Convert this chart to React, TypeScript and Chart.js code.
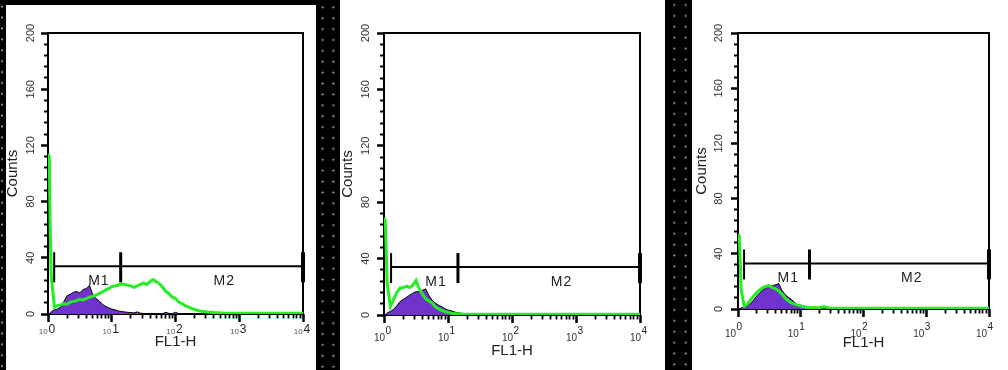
import React, { useEffect, useRef } from 'react';
import { Chart, registerables } from 'chart.js';

Chart.register(...registerables);

// FL1-H channel positions, in decades above 10^0
const LOG_X = [
  0, 0.02, 0.035, 0.05, 0.1, 0.15, 0.2, 0.25, 0.3, 0.35,
  0.4, 0.45, 0.5, 0.55, 0.6, 0.65, 0.7, 0.75, 0.8, 0.85,
  0.9, 0.95, 1.0, 1.05, 1.1, 1.15, 1.2, 1.25, 1.3, 1.35,
  1.4, 1.45, 1.5, 1.55, 1.6, 1.65, 1.7, 1.75, 1.8, 1.85,
  1.9, 1.95, 2.0, 2.05, 2.1, 2.15, 2.2, 2.25, 2.3, 2.35,
  2.4, 2.45, 2.5, 2.55, 2.6, 2.7, 2.8, 3.0, 3.2, 3.4,
  3.6, 3.8, 4.0,
];

// Panel 1
const P1_GREEN = [
  114, 112, 60, 28, 5, 6, 6.5, 7.5, 7, 8.5,
  9, 9.5, 10.5, 10, 11, 12, 12.5, 13.5, 14.5, 15.5,
  17, 18, 19.5, 20, 20.5, 21.5, 21, 20.5, 20, 19,
  20, 21, 22, 21, 23, 24.5, 23, 21.5, 19, 16,
  14.5, 12, 11, 8.5, 7.5, 6, 5, 4, 3.2, 2.5,
  2, 1.8, 1.4, 1.2, 1, 0.8, 0.6, 0.5, 0.5, 0.5,
  0.5, 0.5, 0.5,
];
const P1_PURPLE = [
  0, 0, 0.5, 1.5, 3, 3.5, 5, 9, 13, 14,
  15.5, 16, 15, 17.5, 18, 20.5, 14, 11, 9.5, 7,
  5.5, 4.5, 3.5, 3, 2.2, 1.8, 1.5, 1.2, 1, 0.8,
  1.5, 0.6, 0.4, 0.3, 0.3, 0.3, 0.3, 0.3, 0.3, 1.2,
  0.3, 0.3, 1.2, 0.3, 0.3, 0.3, 0.3, 0.3, 0.3, 0.3,
  0.3, 0.3, 0.3, 0.3, 0.3, 0.3, 0.3, 0.3, 0.3, 0.3,
  0.3, 0.3, 0.3,
];

// Panel 2
const P2_GREEN = [
  69, 67, 45, 22, 6, 11, 16, 19, 19.5, 20.5,
  19.5, 21, 24.5, 18.5, 15, 11.5, 10, 8.5, 6, 4.5,
  3.2, 2.5, 2, 1.3, 1, 0.8, 0.7, 0.5, 0.5, 0.5,
  0.5, 0.5, 0.5, 0.5, 0.5, 0.5, 0.5, 0.5, 0.5, 0.5,
  0.5, 0.5, 0.5, 0.5, 0.5, 0.5, 0.5, 0.5, 0.5, 0.5,
  0.5, 0.5, 0.5, 0.5, 0.5, 0.5, 0.5, 0.5, 0.5, 0.5,
  0.5, 0.5, 0.5,
];
const P2_PURPLE = [
  0, 0, 0.5, 1.5, 2.5, 4, 6.5, 9.5, 11, 12.5,
  14, 15.5, 16.5, 16.5, 17.5, 18.5, 14, 10.5, 8.5, 7,
  6, 4.5, 3.5, 3, 2.2, 1.6, 1.3, 1, 0.8, 0.3,
  0.3, 0.3, 0.3, 0.3, 0.3, 0.3, 0.3, 0.3, 0.3, 0.3,
  0.3, 0.3, 0.3, 0.3, 0.3, 0.3, 0.3, 0.3, 0.3, 0.3,
  0.3, 0.3, 0.3, 0.3, 0.3, 0.3, 0.3, 0.3, 0.3, 0.3,
  0.3, 0.3, 0.3,
];

// Panel 3
const P3_GREEN = [
  54, 53, 35, 14, 2, 3.5, 6.5, 9.5, 12, 14,
  15.5, 16.5, 17, 15.5, 14.5, 13, 11, 8, 6, 4.5,
  3.6, 2.8, 2.2, 1.5, 1.2, 1, 1, 0.9, 1, 1.6,
  1.5, 0.8, 0.6, 0.5, 0.5, 0.5, 0.5, 0.5, 0.5, 0.5,
  0.5, 0.5, 0.5, 0.5, 0.5, 0.5, 0.5, 0.5, 0.5, 0.5,
  0.5, 0.5, 0.5, 0.5, 0.5, 0.5, 0.5, 0.5, 0.5, 0.5,
  0.5, 0.5, 0.5,
];
const P3_PURPLE = [
  0, 0, 0.3, 0.8, 1.5, 2.2, 4, 6.5, 9.5, 12,
  14, 15, 16.5, 17, 17.5, 18.5, 13.5, 10.5, 8.5, 7,
  4.8, 3.2, 2.8, 2.2, 1.5, 1.1, 0.8, 0.3, 0.3, 0.3,
  0.3, 0.3, 0.3, 0.3, 0.3, 0.3, 0.3, 0.3, 0.3, 0.3,
  0.3, 0.3, 0.3, 0.3, 0.3, 0.3, 0.3, 0.3, 0.3, 0.3,
  0.3, 0.3, 0.3, 0.3, 0.3, 0.3, 0.3, 0.3, 0.3, 0.3,
  0.3, 0.3, 0.3,
];

// Marker gates (FL1-H values) and the count level where they sit
const M1_START = [1.25, 1.29, 1.25];
const M1_END = [13.8, 14.3, 13.8];
const M2_END = [10000, 10000, 10000];
const MARKER_Y = [34, 34, 33];
const MARKER_LABELS = ['M1', 'M2'];

// Axis ticks
const Y_LABELLED = [0, 40, 80, 120, 160, 200];
const Y_MINOR_STEP = 8;
const X_DECADES = [1, 10, 100, 1000, 10000];
const X_EXPONENTS = ['0', '1', '2', '3', '4'];

const SERIES = [
  [P1_GREEN, P1_PURPLE],
  [P2_GREEN, P2_PURPLE],
  [P3_GREEN, P3_PURPLE],
];

const FONT = '"Liberation Sans", Arial, Helvetica, sans-serif';
const GREEN = '#22ee22';
const PURPLE = '#7033cc';

const LAYOUTS = [
  {
    box: { x: 6, y: 5, w: 310, h: 365 },
    area: { l: 42, r: 297, t: 28, b: 309 },
    padL: 0.5, xAxisH: 35.5, yPad: 0.5,
    xl: { baseSize: 8, expSize: 12, baseY: 329, expY: 328, gap: 1, dx: -1, baseColor: '#555' },
  },
  {
    box: { x: 340, y: 0, w: 325, h: 370 },
    area: { l: 44, r: 300, t: 33, b: 315 },
    padL: 2, xAxisH: 43.5, yPad: 2.3,
    xl: { baseSize: 10, expSize: 10, baseY: 340.5, expY: 334, gap: 0.5, dx: -1.5, baseColor: '#333' },
  },
  {
    box: { x: 692, y: 0, w: 316, h: 370 },
    area: { l: 46, r: 297, t: 33, b: 309 },
    padL: 4, xAxisH: 41.5, yPad: 2.8,
    xl: { baseSize: 10, expSize: 10, baseY: 337, expY: 330, gap: 0.5, dx: -4.5, baseColor: '#333' },
  },
];

function buildXTicks() {
  const t: number[] = [];
  for (let d = 0; d < X_DECADES.length - 1; d++) {
    for (let m = 1; m <= 9; m++) t.push(m * X_DECADES[d]);
  }
  t.push(X_DECADES[X_DECADES.length - 1]);
  return t;
}
function buildYTicks() {
  const t: number[] = [];
  for (let v = 0; v <= 200; v += Y_MINOR_STEP) t.push(v);
  return t;
}

function Panel({ idx }: { idx: number }) {
  const ref = useRef<HTMLCanvasElement>(null);
  const L = LAYOUTS[idx];

  useEffect(() => {
    const canvas = ref.current;
    if (!canvas) return;
    const [green, purple] = SERIES[idx];
    const xTicks = buildXTicks();
    const yTicks = buildYTicks();
    const isDecade = (v: number) => X_DECADES.includes(v);
    const isYMajor = (v: number) => Y_LABELLED.includes(v);

    const framePlugin = {
      id: 'frame' + idx,
      beforeDatasetsDraw(chart: any) {
        const { ctx, chartArea: a } = chart;
        ctx.save();
        ctx.strokeStyle = '#000';
        ctx.lineWidth = 2;
        ctx.strokeRect(a.left, a.top, a.right - a.left, a.bottom - a.top);
        ctx.restore();
      },
    };

    const markerPlugin = {
      id: 'markers' + idx,
      afterDatasetsDraw(chart: any) {
        const { ctx } = chart;
        const xs = chart.scales.x;
        const ys = chart.scales.y;
        const y = ys.getPixelForValue(MARKER_Y[idx]);
        const xa = xs.getPixelForValue(M1_START[idx]);
        const xb = xs.getPixelForValue(M1_END[idx]);
        const xc = xs.getPixelForValue(M2_END[idx]);
        ctx.save();
        ctx.strokeStyle = '#000';
        ctx.lineWidth = 2;
        ctx.beginPath();
        ctx.moveTo(xa, y);
        ctx.lineTo(xc, y);
        ctx.stroke();
        const bars: [number, number][] = [[xa, 2], [xb, 3], [xc, 4]];
        bars.forEach(([bx, w]) => {
          ctx.lineWidth = w;
          ctx.beginPath();
          ctx.moveTo(bx, y - 14);
          ctx.lineTo(bx, y + 16);
          ctx.stroke();
        });
        ctx.fillStyle = '#222';
        ctx.font = `14px ${FONT}`;
        ctx.textAlign = 'center';
        ctx.textBaseline = 'middle';
        (ctx as any).letterSpacing = '1px';
        ctx.fillText(MARKER_LABELS[0], (xa + xb) / 2 + 11.5, y + 15);
        ctx.fillText(MARKER_LABELS[1], (xb + xc) / 2 + 12.5, y + 15);
        ctx.restore();
      },
    };

    const xLabelPlugin = {
      id: 'xlabels' + idx,
      afterDraw(chart: any) {
        const { ctx } = chart;
        const xs = chart.scales.x;
        const s = L.xl;
        ctx.save();
        ctx.textAlign = 'left';
        ctx.textBaseline = 'alphabetic';
        X_DECADES.forEach((v, i) => {
          const px = xs.getPixelForValue(v);
          ctx.font = `${s.baseSize}px ${FONT}`;
          const bw = ctx.measureText('10').width;
          ctx.font = `${s.expSize}px ${FONT}`;
          const ew = ctx.measureText(X_EXPONENTS[i]).width;
          const x0 = px - (bw + s.gap + ew) / 2 + s.dx;
          ctx.font = `${s.baseSize}px ${FONT}`;
          ctx.fillStyle = s.baseColor;
          ctx.fillText('10', x0, s.baseY);
          ctx.font = `${s.expSize}px ${FONT}`;
          ctx.fillStyle = '#222';
          ctx.fillText(X_EXPONENTS[i], x0 + bw + s.gap, s.expY);
        });
        ctx.restore();
      },
    };

    const chart = new Chart(canvas, {
      type: 'line',
      data: {
        datasets: [
          {
            data: LOG_X.map((lx, k) => ({ x: Math.pow(10, lx), y: green[k] })),
            borderColor: GREEN,
            borderWidth: 3,
            pointRadius: 0,
            fill: false,
            tension: 0,
            order: 0,
          },
          {
            data: LOG_X.map((lx, k) => ({ x: Math.pow(10, lx), y: purple[k] })),
            borderColor: '#000',
            borderWidth: 1,
            backgroundColor: PURPLE,
            pointRadius: 0,
            fill: 'origin',
            tension: 0,
            order: 1,
          },
        ],
      },
      options: {
        animation: false,
        responsive: false,
        devicePixelRatio: 1,
        events: [],
        layout: {
          padding: {
            left: L.padL,
            top: L.area.t,
            right: L.box.w - L.area.r,
            bottom: L.box.h - L.area.b - L.xAxisH,
          },
        },
        plugins: {
          legend: { display: false },
          tooltip: { enabled: false },
          title: { display: false },
        },
        scales: {
          x: {
            type: 'logarithmic',
            min: 1,
            max: 10000,
            afterBuildTicks: (s: any) => {
              s.ticks = xTicks.map((v) => ({ value: v, major: isDecade(v) }));
            },
            afterFit: (s: any) => {
              s.height = L.xAxisH;
            },
            border: { display: false },
            grid: {
              display: true,
              drawOnChartArea: false,
              drawTicks: true,
              tickLength: 8,
              tickColor: '#000',
              tickWidth: (c: any) => (c.tick && isDecade(c.tick.value) ? 2.5 : 1.8),
              tickBorderDash: (c: any) => (c.tick && isDecade(c.tick.value) ? [] : [4.5, 100]),
            },
            ticks: { display: false, autoSkip: false },
            title: {
              display: true,
              text: 'FL1-H',
              color: '#222',
              font: { size: 15, family: FONT, lineHeight: 1 },
              padding: 0,
            },
          },
          y: {
            type: 'linear',
            min: 0,
            max: 200,
            afterBuildTicks: (s: any) => {
              s.ticks = yTicks.map((v) => ({ value: v }));
            },
            afterFit: (s: any) => {
              s.width = L.area.l - L.padL;
            },
            border: { display: false },
            grid: {
              display: true,
              drawOnChartArea: false,
              drawTicks: true,
              tickLength: 7,
              tickColor: '#000',
              tickWidth: (c: any) => (c.tick && isYMajor(c.tick.value) ? 2.5 : 2),
              tickBorderDash: (c: any) => (c.tick && isYMajor(c.tick.value) ? [] : [0, 3, 4, 100]),
            },
            ticks: {
              autoSkip: false,
              minRotation: 90,
              maxRotation: 90,
              crossAlign: 'center',
              padding: L.yPad,
              color: '#333',
              font: { size: 11, family: FONT },
              callback: (v: any) => (isYMajor(Number(v)) ? String(v) : ''),
            },
            title: {
              display: true,
              text: 'Counts',
              color: '#222',
              font: { size: 15, family: FONT, lineHeight: 0.8 },
              padding: 0,
            },
          },
        },
      } as any,
      plugins: [framePlugin, markerPlugin, xLabelPlugin],
    });
    return () => chart.destroy();
  }, [idx]);

  return (
    <div
      style={{
        position: 'absolute',
        left: L.box.x,
        top: L.box.y,
        width: L.box.w,
        height: L.box.h,
        background: '#fff',
      }}
    >
      <canvas
        ref={ref}
        width={L.box.w}
        height={L.box.h}
        style={{ display: 'block', width: L.box.w, height: L.box.h }}
      />
    </div>
  );
}

function Dots({ x, w, tile, px, py }: { x: number; w: number; tile: number; px: number; py: number }) {
  return (
    <div
      style={{
        position: 'absolute',
        left: x,
        top: 0,
        width: w,
        height: 370,
        backgroundImage: 'radial-gradient(circle, #a0a0a0 0, #a0a0a0 0.8px, rgba(0,0,0,0) 1.3px)',
        backgroundSize: `${tile}px 10.9px`,
        backgroundPosition: `${px}px ${py}px`,
      }}
    />
  );
}

export default function App() {
  return (
    <div
      style={{
        position: 'absolute',
        left: 0,
        top: 0,
        width: 1008,
        height: 370,
        background: '#000',
        overflow: 'hidden',
      }}
    >
      <Dots x={0} w={6} tile={20} px={-8} py={1.25} />
      <Dots x={316} w={24} tile={10.6} px={1.4} py={1.85} />
      <Dots x={665} w={27} tile={11.4} px={3.6} py={-0.45} />
      <Panel idx={0} />
      <Panel idx={1} />
      <Panel idx={2} />
    </div>
  );
}
